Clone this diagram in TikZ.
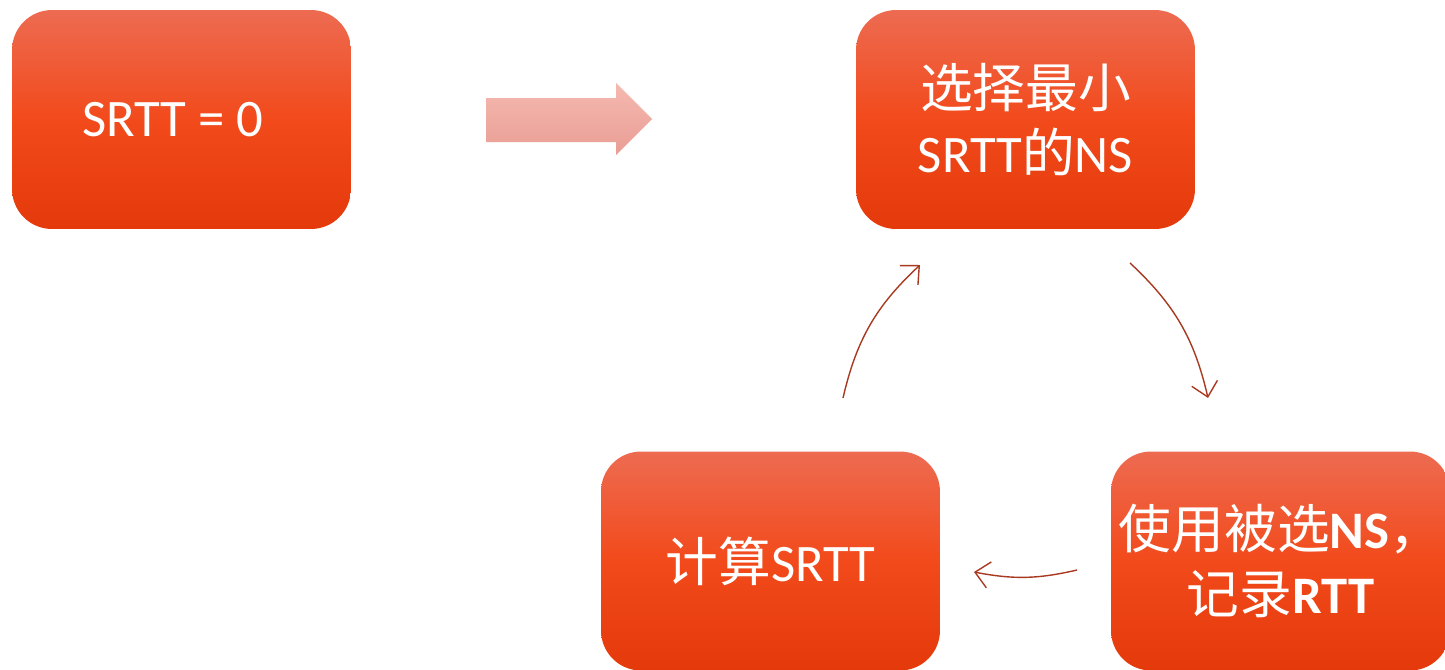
\documentclass[tikz,border=0pt]{standalone}
\usepackage{fontspec}
\setmainfont{Carlito}
\newfontfamily\cjk{Noto Sans CJK SC}
\usetikzlibrary{arrows.meta}
\definecolor{boxtop}{HTML}{ED6B51}
\definecolor{boxmid}{HTML}{F24A1B}
\definecolor{boxbot}{HTML}{E4390B}
\definecolor{arrowtop}{HTML}{F5B9B0}
\definecolor{arrowbot}{HTML}{E99D94}
\definecolor{cycleline}{HTML}{A93A22}
\begin{document}
\begin{tikzpicture}[x=0.02cm,y=0.02cm,
	stepbox/.style={rounded corners=0.8cm,minimum width=6.78cm,minimum height=4.38cm,
		top color=boxtop,bottom color=boxbot,middle color=boxmid,
		text=white,align=center,inner sep=0pt,font=\fontsize{30}{37}\selectfont},
	cyclearrow/.style={draw=cycleline,line width=0.8pt,
		-{Straight Barb[length=8pt,width=15pt]}}]
			%Canvas
			\useasboundingbox (0,0) rectangle (1445,-670);
			\clip (0,0) rectangle (1445,-670);
			%The boxes
			\node [stepbox] (srtt0) at (181.5,-119.5) {SRTT = 0\hspace*{0.35cm}};
			\node [stepbox] (select) at (1025.5,-119.5) {{\cjk 选择最小}\\SRTT{\cjk 的}NS};
			\node [stepbox] (calc) at (770.5,-561) {{\cjk 计算}SRTT};
			\node [stepbox] (use) at (1280.5,-561) {{\cjk 使用被选}\textbf{NS}{\cjk ，}\\{\cjk 记录}\textbf{RTT}};
			%Block arrow between the top boxes
			\shade [top color=arrowtop,bottom color=arrowbot]
				(486,-98) -- (616,-98) -- (616,-83) -- (652,-119)
				-- (616,-155) -- (616,-142) -- (486,-142) -- cycle;
			%Ends of the cycle arrows
			\coordinate (selectOut) at (1130,-263);
			\coordinate (useIn) at (1208,-398);
			\coordinate (useOut) at (1077,-570);
			\coordinate (calcIn) at (974,-572);
			\coordinate (calcOut) at (843,-398);
			\coordinate (selectIn) at (920,-265);
			%The cycle
			\draw [cyclearrow] (selectOut) to[bend left=17] (useIn);
			\draw [cyclearrow] (useOut) to[bend left=12] (calcIn);
			\draw [cyclearrow] (calcOut) to[bend left=17] (selectIn);
\end{tikzpicture}
\end{document}
